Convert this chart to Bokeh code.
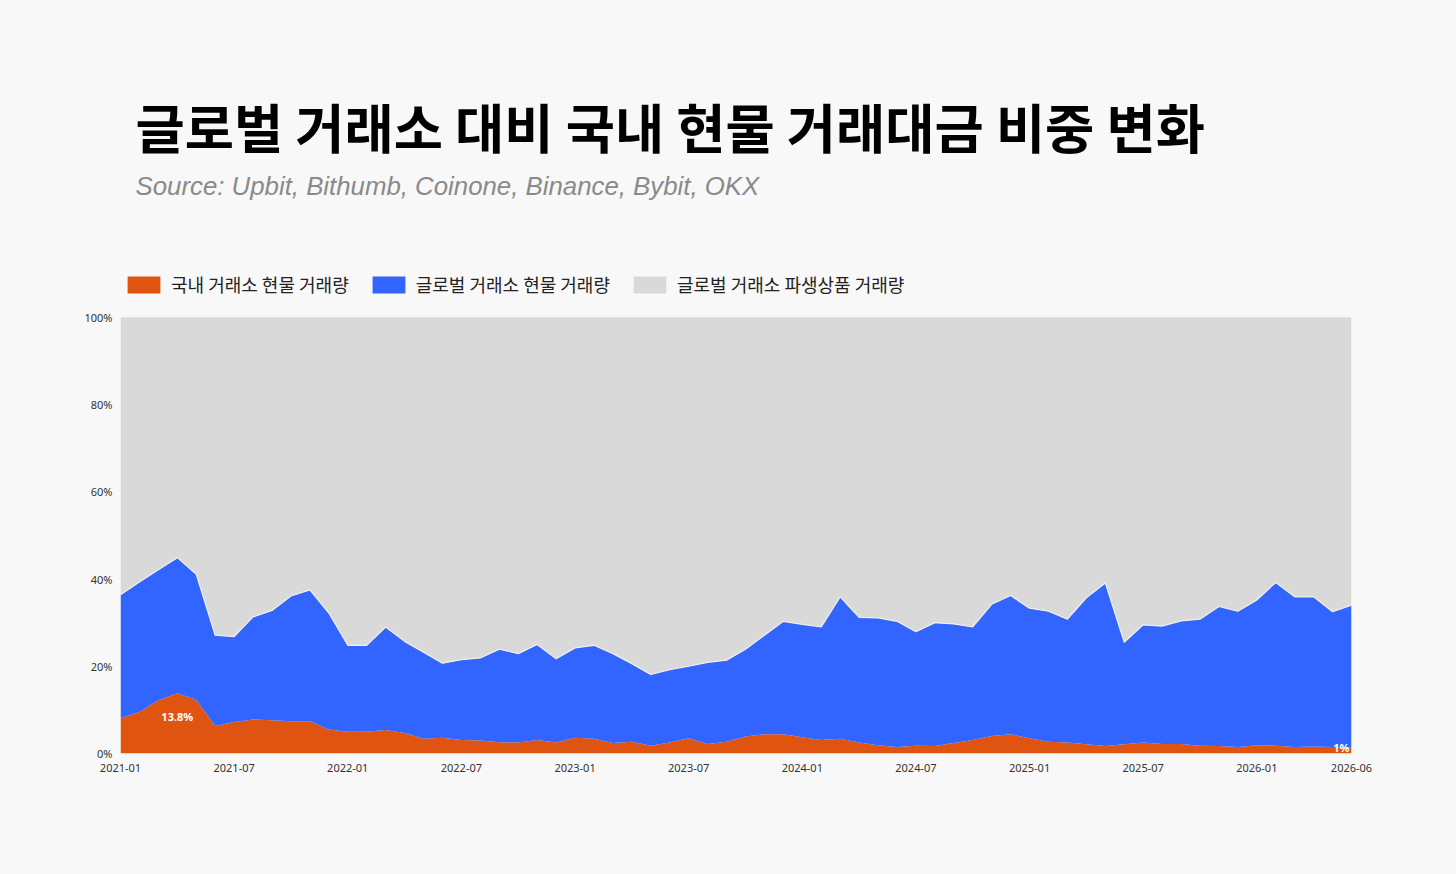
import pandas as pd
from bokeh.plotting import figure
from bokeh.models import ColumnDataSource, Label, FixedTicker, Range1d, Legend, LegendItem
from bokeh.embed import file_html
from bokeh.resources import INLINE

# ---- data (percent share of total trading value) ----
months = pd.date_range("2021-01-01", "2026-06-01", freq="MS").strftime("%Y-%m").tolist()

domestic_spot = [8.1, 9.5, 12.2, 13.8, 12.3, 6.3, 7.2, 7.8, 7.6, 7.4, 7.4, 5.5,
                 5.0, 5.0, 5.4, 4.7, 3.4, 3.6, 3.1, 3.0, 2.6, 2.5, 3.1, 2.5,
                 3.6, 3.4, 2.4, 2.7, 1.8, 2.5, 3.5, 2.2, 2.7, 3.9, 4.4, 4.4,
                 3.7, 3.1, 3.4, 2.5, 1.9, 1.5, 1.8, 1.7, 2.4, 3.1, 4.0, 4.4,
                 3.5, 2.7, 2.5, 2.1, 1.7, 2.1, 2.5, 2.2, 2.2, 1.8, 1.7, 1.5,
                 1.9, 1.8, 1.5, 1.6, 1.5, 1.3]

global_spot = [28.3, 29.8, 29.9, 31.1, 28.8, 20.8, 19.6, 23.5, 25.2, 28.7, 30.1, 26.7,
               19.8, 19.8, 23.6, 21.0, 19.8, 17.1, 18.4, 18.9, 21.3, 20.4, 21.9, 19.2,
               20.6, 21.4, 20.5, 17.9, 16.3, 16.7, 16.5, 18.7, 18.7, 20.0, 22.7, 25.9,
               25.9, 25.9, 32.5, 28.7, 29.2, 28.8, 26.1, 28.3, 27.3, 25.9, 30.2, 31.8,
               29.8, 29.9, 28.3, 33.6, 37.4, 23.4, 27.0, 27.0, 28.2, 29.0, 32.0, 31.1,
               33.3, 37.4, 34.4, 34.3, 31.0, 32.7]

series_names = ["국내 거래소 현물 거래량", "글로벌 거래소 현물 거래량", "글로벌 거래소 파생상품 거래량"]
series_colors = ["#e05412", "#3264ff", "#d9d9d9"]

x_tick_labels = ["2021-01", "2021-07", "2022-01", "2022-07", "2023-01", "2023-07",
                 "2024-01", "2024-07", "2025-01", "2025-07", "2026-01", "2026-06"]
y_ticks = [0, 20, 40, 60, 80, 100]

title_text = "글로벌 거래소 대비 국내 현물 거래대금 비중 변화"
subtitle_text = "Source: Upbit, Bithumb, Coinone, Binance, Bybit, OKX"

# ---- derived columns ----
derivatives = [round(100 - d - g, 1) for d, g in zip(domestic_spot, global_spot)]
spot_total = [round(d + g, 1) for d, g in zip(domestic_spot, global_spot)]
xs = list(range(len(months)))
tick_pos = [months.index(m) for m in x_tick_labels]

src = ColumnDataSource(dict(x=xs, month=months, dom=domestic_spot, glob=global_spot,
                            deriv=derivatives, total=spot_total))

BG = "#f8f8f8"
# frame extends above 100% so that the header (title, source, legend) sits inside it
p = figure(width=1456, height=874, output_backend="svg", toolbar_location=None,
           x_range=Range1d(0, len(months) - 1), y_range=Range1d(0, 160),
           min_border_left=120, min_border_right=105, min_border_top=55, min_border_bottom=121)
p.background_fill_color = BG
p.border_fill_color = BG
p.outline_line_color = None
p.grid.visible = False

rs = p.varea_stack(["dom", "glob", "deriv"], x="x", color=series_colors, source=src)
p.line("x", "total", source=src, line_color="#f3efe8", line_width=1.2)

# axes
p.xaxis.ticker = FixedTicker(ticks=tick_pos)
p.xaxis.major_label_overrides = {i: lab for i, lab in zip(tick_pos, x_tick_labels)}
p.yaxis.ticker = FixedTicker(ticks=y_ticks)
p.yaxis.major_label_overrides = {v: f"{v}%" for v in y_ticks}
for ax in (p.xaxis, p.yaxis):
    ax.axis_line_color = None
    ax.major_tick_line_color = None
    ax.minor_tick_line_color = None
    ax.major_tick_out = 0
    ax.major_tick_in = 0
    ax.minor_tick_out = 0
    ax.major_label_text_font = "Noto Sans"
    ax.major_label_text_font_size = "11px"
    ax.major_label_text_color = "#333333"
p.yaxis.major_label_standoff = 8
p.xaxis.major_label_standoff = 10

# legend
legend = Legend(items=[LegendItem(label=n, renderers=[r]) for n, r in zip(series_names, rs)],
                orientation="horizontal", location=(3, 456),
                glyph_width=41, glyph_height=21, label_standoff=7, spacing=19,
                padding=0, margin=0, border_line_color=None, background_fill_alpha=0,
                label_text_font="Noto Sans CJK KR", label_text_font_size="18px",
                label_text_color="#222222")
p.add_layout(legend)

# title & subtitle (data units: 0..160 on the y range)
p.add_layout(Label(x=0, y=144.0, x_offset=15, text=title_text,
                   text_font="Noto Sans CJK KR", text_font_style="bold", text_font_size="53.5px",
                   text_color="#000000", text_baseline="middle"))
p.add_layout(Label(x=0, y=130.0, x_offset=15, text=subtitle_text,
                   text_font="Liberation Sans", text_font_style="italic", text_font_size="25.8px",
                   text_color="#8a8a8a", text_baseline="middle"))

# value annotations
peak = domestic_spot.index(max(domestic_spot))
p.add_layout(Label(x=peak, y=domestic_spot[peak], text=f"{domestic_spot[peak]}%", y_offset=-23,
                   text_align="center", text_baseline="middle", text_color="white",
                   text_font="Noto Sans", text_font_style="bold", text_font_size="11px"))
p.add_layout(Label(x=xs[-1], y=domestic_spot[-1], text=f"{round(domestic_spot[-1])}%", x_offset=-2,
                   text_align="right", text_baseline="middle", text_color="white",
                   text_font="Noto Sans", text_font_style="bold", text_font_size="11px"))

html = file_html(p, INLINE)
html = html.replace("<head>", "<head><style>body{background:#f8f8f8;}</style>", 1)
open("out.html", "w").write(html)
